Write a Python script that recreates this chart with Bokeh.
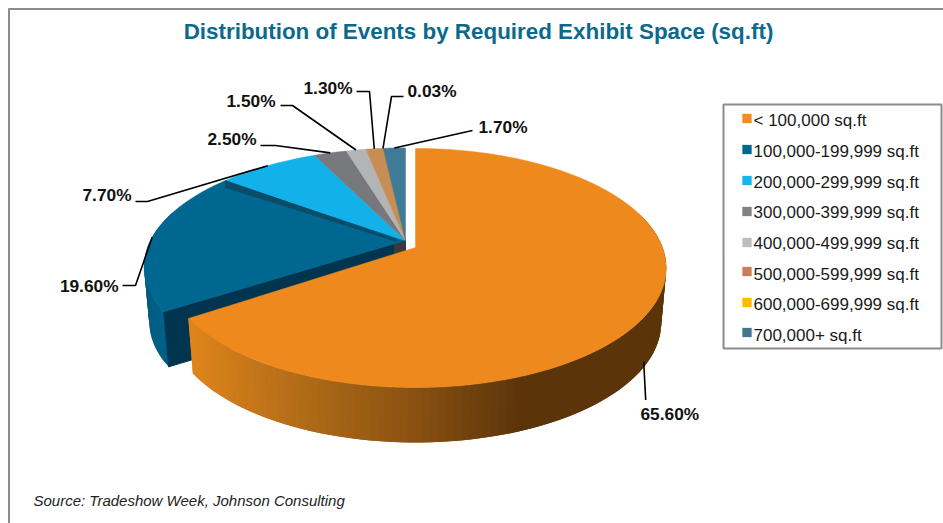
import numpy as np
from bokeh.plotting import figure
from bokeh.embed import file_html
from bokeh.resources import INLINE
from bokeh.core.properties import value

# ---- data ----
categories = ["< 100,000 sq.ft", "100,000-199,999 sq.ft", "200,000-299,999 sq.ft",
              "300,000-399,999 sq.ft", "400,000-499,999 sq.ft", "500,000-599,999 sq.ft",
              "600,000-699,999 sq.ft", "700,000+ sq.ft"]
shares = [65.6, 19.6, 7.7, 2.5, 1.5, 1.3, 0.03, 1.7]
title = "Distribution of Events by Required Exhibit Space (sq.ft)"
source = "Source: Tradeshow Week, Johnson Consulting"

# ---- style ----
top_colors = ["#EE8A1D", "#006890", "#12B1EA", "#77787C", "#B2B4B6", "#C68E54", "#D68418", "#3F7B96"]
legend_colors = ["#F58C1E", "#00678F", "#13B5EA", "#808285", "#BCBEC0", "#C77F5C", "#FFBC00", "#44758F"]
FONT = value("Liberation Sans")

W, H = 943, 523
p = figure(width=W, height=H, x_range=(0, 943), y_range=(523, 0),
           output_backend="svg", toolbar_location=None, min_border=0,
           outline_line_color=None)
p.axis.visible = False
p.grid.visible = False
p.background_fill_color = "white"
p.border_fill_color = "white"

DEPTH = 55


def rim(theta, cx, cy, a, b, k):
    """Screen point on a perspective disc, theta clockwise from 12 o'clock, degrees."""
    t = np.radians(theta)
    u, v = np.sin(t), np.cos(t)
    w = 1 + k * v
    return cx + a * u / w, cy - b * v / w


MAIN = dict(cx=415, cy=247, a=247, b=116, k=0.1715)   # pulled-out slice
REST = dict(cx=405, cy=240, a=255, b=113, k=0.22)     # remaining slices


def arc(t0, t1, geo, n=None):
    n = n or max(3, int(abs(t1 - t0) * 1.5) + 2)
    return rim(np.linspace(t0, t1, n), **geo)


def drop(x, y, geo, scale=0.98):
    return geo["cx"] + (np.asarray(x) - geo["cx"]) * scale, np.asarray(y) + DEPTH


edges = np.concatenate([[0], np.cumsum(shares)]) * 360.0 / sum(shares)
mids = (edges[:-1] + edges[1:]) / 2


def wall(t0, t1, geo, stops_x, stops_rgb, step=1.5):
    """Side wall as overlapping facets painted from t1 back to t0 so no seams show."""
    ts = np.arange(t0, t1 + step, step)
    ts[-1] = t1
    xt, yt = rim(ts, **geo)
    xb, yb = drop(xt, yt, geo)
    for i in range(len(ts) - 2, -1, -1):
        xm = (xt[i] + xt[i + 1]) / 2
        rgb = [int(np.interp(xm, stops_x, [c[j] for c in stops_rgb])) for j in range(3)]
        col = "#%02x%02x%02x" % tuple(rgb)
        j = min(i + 2, len(ts) - 1)
        p.patch([xt[i], xt[j], xb[j], xb[i]], [yt[i], yt[j], yb[j], yb[i]],
                fill_color=col, line_color=None)


# frame
p.line([8.5, 8.5], [8, 523], line_color="#8C8C8C", line_width=2)
p.line([8, 943], [8.5, 8.5], line_color="#8C8C8C", line_width=2)

# --- second slice: outer wall and its cut face
wall(edges[1], 285, REST, [140, 175], [(0, 92, 130), (4, 98, 136)])
cx_, cy_ = rim(edges[1], **REST)
bx_, by_ = drop(cx_, cy_, REST)
p.patch([cx_, REST["cx"], REST["cx"], bx_], [cy_, REST["cy"], REST["cy"] + DEPTH, by_],
        fill_color="#00344F", line_color="#00344F")

# dark hub under the small slices
p.patch([REST["cx"] - 11, REST["cx"], REST["cx"], REST["cx"] - 11],
        [REST["cy"], REST["cy"], REST["cy"] + 10, REST["cy"] + 13],
        fill_color="#3A3A3C", line_color="#3A3A3C")

# --- top faces of the remaining slices, clockwise
for i in range(1, len(shares)):
    x, y = arc(edges[i], edges[i + 1], REST)
    p.patch(np.r_[REST["cx"], x], np.r_[REST["cy"], y],
            fill_color=top_colors[i], line_color=top_colors[i], line_width=0.5)

# shaded seam between second and third slice
sx, sy = rim(edges[2], **REST)
p.patch([REST["cx"] - 9, sx, sx, REST["cx"] - 9], [REST["cy"] - 1, sy, sy + 7, REST["cy"] + 1],
        fill_color="#0A4C6A", line_color="#0A4C6A", line_width=0.5)

# --- largest slice
wall(72, edges[1], MAIN,
     [195, 300, 420, 530, 665],
     [(222, 132, 28), (180, 110, 24), (138, 82, 18), (92, 52, 10), (92, 52, 10)])
x, y = arc(0, edges[1], MAIN)
p.patch(np.r_[MAIN["cx"], x], np.r_[MAIN["cy"], y],
        fill_color=top_colors[0], line_color=top_colors[0], line_width=0.5)

# --- leaders and percentage labels
elbows = {
    0: [],
    1: [(135, 285), (122, 285)],
    2: [(147, 201), (135, 201)],
    3: [(275, 145), (260, 145)],
    4: [(292, 105), (280, 105)],
    5: [(369, 91), (356, 91)],
    6: [(391, 96), (403, 96)],
    7: [(472, 130)],
}
label_at = {0: (640, 413), 1: (118, 285, "right"), 2: (131, 194, "right"), 3: (256, 138, "right"),
            4: (275, 100, "right"), 5: (352, 87, "right"), 6: (407, 90), 7: (478, 126)}
for i, v in enumerate(shares):
    if i == 0:
        ex, ey = drop(*rim(mids[0], **MAIN), MAIN)
        xs, ys = [ex - 4, ex - 2], [ey, ey + 38]
    else:
        ex, ey = rim(mids[i], **REST)
        xs = [ex] + [e[0] for e in elbows[i]]
        ys = [ey] + [e[1] for e in elbows[i]]
    p.line(xs, ys, line_color="black", line_width=1.6)
    la = label_at[i]
    p.text([la[0]], [la[1]], text=[f"{v:.2f}%"], text_font=FONT, text_font_style="bold",
           text_font_size="17.3px", text_color="#111111", text_baseline="middle",
           text_align=la[2] if len(la) > 2 else "left")

# title and source
p.text([478], [31], text=[title], text_font=FONT, text_font_style="bold", text_font_size="22.4px",
       text_color="#0B6A8B", text_align="center", text_baseline="middle")
p.text([33], [500], text=[source], text_font=FONT, text_font_style="italic", text_font_size="15px",
       text_color="#222222", text_baseline="middle")

# legend
p.quad(left=[723], right=[941], top=[104], bottom=[348], fill_color="white",
       line_color="#8C8C8C", line_width=2)
swatch_y = [118, 149, 180, 211, 242, 271, 302, 332]
text_y = [120, 151, 182, 212, 243, 274, 304, 335]
for c, cat, ys_, yt_ in zip(legend_colors, categories, swatch_y, text_y):
    p.quad(left=[742], right=[751], top=[ys_ - 4.5], bottom=[ys_ + 4.5], fill_color=c, line_color=c, line_width=0.3)
    p.text([753], [yt_], text=[cat], text_font=FONT, text_font_size="17px", text_color="#1A1A1A",
           text_baseline="middle")

open("out.html", "w").write(file_html(p, INLINE))
